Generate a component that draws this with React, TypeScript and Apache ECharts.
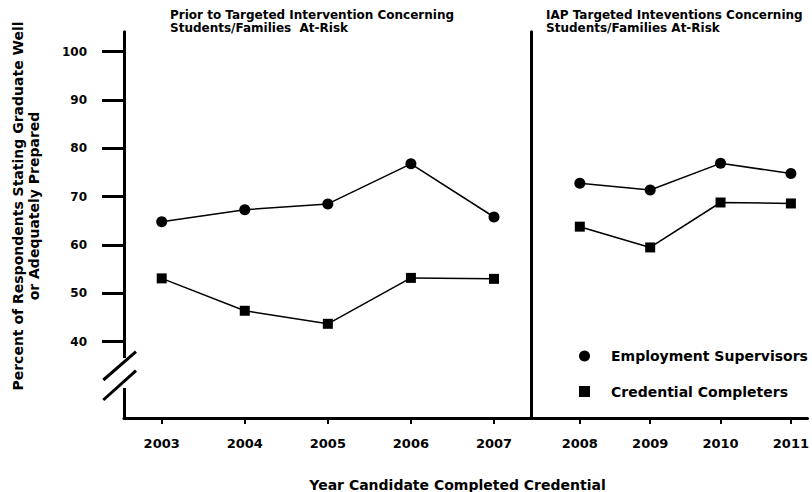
import React, { useEffect, useRef } from "react";
import * as echarts from "echarts";

const leftYears = [2003, 2004, 2005, 2006, 2007];
const rightYears = [2008, 2009, 2010, 2011];
const supervisorsLeft = [64.8, 67.3, 68.5, 76.8, 65.8];
const completersLeft = [53.1, 46.4, 43.7, 53.2, 53.0];
const supervisorsRight = [72.8, 71.4, 76.9, 74.8];
const completersRight = [63.8, 59.5, 68.8, 68.6];
const yTicks = [40, 50, 60, 70, 80, 90, 100];
const seriesNames = ["Employment Supervisors", "Credential Completers"];
const panelTitles = [
  "Prior to Targeted Intervention Concerning\nStudents/Families  At-Risk",
  "IAP Targeted Inteventions Concerning\nStudents/Families At-Risk",
];
const yTitle = "Percent of Respondents Stating Graduate Well\nor Adequately Prepared";
const xTitle = "Year Candidate Completed Credential";

const FONT = "DejaVu Sans";
const INK = "#000";

export default function App() {
  const ref = useRef<HTMLDivElement>(null);

  useEffect(() => {
    if (!ref.current) return;
    const chart = echarts.init(ref.current, null, { renderer: "svg" });

    const yMin = 24.21;
    const yMax = 104.14;

    const xAxisCommon = (gridIndex: number, min: number, max: number, ticks: number[]) => ({
      type: "value",
      gridIndex,
      min,
      max,
      axisLine: { show: true, lineStyle: { color: INK, width: 3 } },
      axisTick: {
        show: true,
        length: 6,
        lineStyle: { color: INK, width: 2 },
        customValues: ticks,
      },
      axisLabel: {
        customValues: ticks,
        formatter: (v: number) => String(v),
        color: INK,
        fontFamily: FONT,
        fontWeight: "bold",
        fontSize: 13,
        margin: 19,
      },
      splitLine: { show: false },
    });

    const line = (name: string, idx: number, years: number[], vals: number[], symbol: string, size: number) => ({
      type: "line",
      name,
      xAxisIndex: idx,
      yAxisIndex: idx,
      data: years.map((y, i) => [y, vals[i]]),
      symbol,
      symbolSize: size,
      lineStyle: { color: INK, width: 1.5 },
      itemStyle: { color: INK },
      z: 5,
    });

    chart.setOption({
      animation: false,
      backgroundColor: "#fff",
      title: [
        {
          text: panelTitles[0],
          left: 170,
          top: 8,
          padding: 0,
          textStyle: { fontFamily: FONT, fontWeight: "bold", fontSize: 12, lineHeight: 13, color: INK },
        },
        {
          text: panelTitles[1],
          left: 546,
          top: 8,
          padding: 0,
          textStyle: { fontFamily: FONT, fontWeight: "bold", fontSize: 12, lineHeight: 13, color: INK },
        },
      ],
      legend: {
        orient: "vertical",
        left: 574,
        top: 344,
        itemWidth: 11,
        itemHeight: 11,
        itemGap: 21.5,
        data: [
          { name: seriesNames[0], icon: "circle" },
          { name: seriesNames[1], icon: "rect" },
        ],
        formatter: (n: string) => "{s|}" + n,
        textStyle: {
          fontFamily: FONT,
          fontWeight: "bold",
          fontSize: 14,
          color: INK,
          rich: { s: { width: 16 } },
        },
        itemStyle: { color: INK },
      },
      grid: [
        { left: 124, top: 31.7, width: 407.7, height: 386.3 },
        { left: 531.7, top: 31.7, width: 278.3, height: 386.3 },
      ],
      xAxis: [
        xAxisCommon(0, 2002.546, 2007.454, leftYears),
        xAxisCommon(1, 2007.316, 2011.236, rightYears),
      ],
      yAxis: [
        {
          type: "value",
          gridIndex: 0,
          min: yMin,
          max: yMax,
          axisLine: { show: true, lineStyle: { color: INK, width: 3 } },
          axisTick: { show: true, length: 22, lineStyle: { color: INK, width: 3 }, customValues: yTicks },
          axisLabel: {
            customValues: yTicks,
            color: INK,
            fontFamily: FONT,
            fontWeight: "bold",
            fontSize: 12,
            margin: 37,
          },
          splitLine: { show: false },
        },
        {
          type: "value",
          gridIndex: 1,
          min: yMin,
          max: yMax,
          axisLine: { show: true, lineStyle: { color: INK, width: 3 } },
          axisTick: { show: false },
          axisLabel: { show: false },
          splitLine: { show: false },
        },
      ],
      series: [
        line(seriesNames[0], 0, leftYears, supervisorsLeft, "circle", 11),
        line(seriesNames[1], 0, leftYears, completersLeft, "rect", 10),
        line(seriesNames[0], 1, rightYears, supervisorsRight, "circle", 11),
        line(seriesNames[1], 1, rightYears, completersRight, "rect", 10),
      ],
      graphic: [
        {
          type: "rect",
          z: 100,
          shape: { x: 118, y: 358, width: 14, height: 30 },
          style: { fill: "#fff" },
        },
        {
          type: "line",
          z: 101,
          shape: { x1: 103.3, y1: 380, x2: 136, y2: 351.7 },
          style: { stroke: INK, lineWidth: 3 },
        },
        {
          type: "line",
          z: 101,
          shape: { x1: 103.3, y1: 400, x2: 136, y2: 370.7 },
          style: { stroke: INK, lineWidth: 3 },
        },
        {
          type: "text",
          z: 101,
          x: 26,
          y: 206,
          rotation: Math.PI / 2,
          style: {
            text: yTitle,
            textAlign: "center",
            verticalAlign: "middle",
            fontFamily: FONT,
            fontWeight: "bold",
            fontSize: 14,
            lineHeight: 16.5,
            fill: INK,
          },
        },
        {
          type: "text",
          z: 101,
          x: 457.5,
          y: 484.5,
          style: {
            text: xTitle,
            textAlign: "center",
            verticalAlign: "middle",
            fontFamily: FONT,
            fontWeight: "bold",
            fontSize: 14,
            fill: INK,
          },
        },
      ],
    });

    return () => chart.dispose();
  }, []);

  return (
    <div
      ref={ref}
      style={{ position: "absolute", left: 0, top: 0, width: 812, height: 492 }}
    />
  );
}
